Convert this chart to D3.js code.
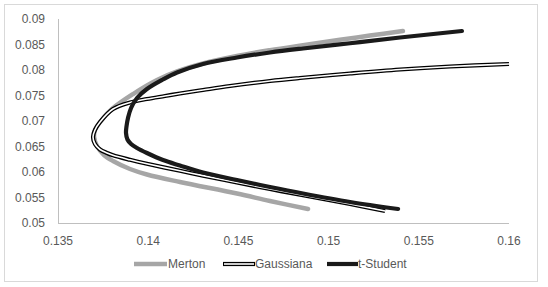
<!DOCTYPE html>
<html><head><meta charset="utf-8">
<script src="https://cdn.jsdelivr.net/npm/d3@7"></script>
<style>html,body{margin:0;padding:0;background:#fff;}svg{display:block;}</style>
</head><body>
<svg id="c" width="548" height="287"></svg>
<script>
const seriesNames = ["Merton", "Gaussiana", "t-Student"];
const mertonX = [0.15412, 0.15229, 0.15063, 0.14858, 0.14675, 0.14492, 0.14304, 0.14160, 0.14049, 0.13916, 0.13799, 0.13733, 0.13705, 0.13700, 0.13716, 0.13755, 0.13805, 0.13899, 0.13993, 0.14176, 0.14492, 0.14675, 0.14886];
const mertonY = [0.08765, 0.08675, 0.08592, 0.08486, 0.08388, 0.08275, 0.08127, 0.07971, 0.07804, 0.07529, 0.07235, 0.06980, 0.06824, 0.06686, 0.06510, 0.06333, 0.06216, 0.06059, 0.05951, 0.05804, 0.05578, 0.05431, 0.05275];
const gaussX = [0.16, 0.15673, 0.15396, 0.15119, 0.14841, 0.14675, 0.14453, 0.14304, 0.14176, 0.14093, 0.13993, 0.13899, 0.13805, 0.13733, 0.13705, 0.13694, 0.13705, 0.13733, 0.13772, 0.13805, 0.13899, 0.13993, 0.14176, 0.14304, 0.14492, 0.14675, 0.14858, 0.15119, 0.15313];
const gaussY = [0.08118, 0.08069, 0.08010, 0.07931, 0.07843, 0.07784, 0.07686, 0.07608, 0.07539, 0.07490, 0.07431, 0.07363, 0.07235, 0.06980, 0.06824, 0.06686, 0.06549, 0.06441, 0.06373, 0.06327, 0.06239, 0.06161, 0.06024, 0.05929, 0.05794, 0.05667, 0.05543, 0.05373, 0.05235];
const tX = [0.15739, 0.15396, 0.15119, 0.14858, 0.14675, 0.14492, 0.14304, 0.14160, 0.14082, 0.13993, 0.13938, 0.13905, 0.13888, 0.13880, 0.13877, 0.13885, 0.13905, 0.13938, 0.13993, 0.14082, 0.14176, 0.14304, 0.14492, 0.14675, 0.14858, 0.15119, 0.15385];
const tY = [0.08765, 0.08637, 0.08524, 0.08422, 0.08343, 0.08245, 0.08118, 0.07951, 0.07814, 0.07627, 0.07451, 0.07255, 0.07059, 0.06902, 0.06765, 0.06637, 0.06549, 0.06471, 0.06373, 0.06235, 0.06127, 0.05990, 0.05843, 0.05706, 0.05578, 0.05412, 0.05275];
const xTicks = [0.135, 0.14, 0.145, 0.15, 0.155, 0.16];
const yTicks = [0.05, 0.055, 0.06, 0.065, 0.07, 0.075, 0.08, 0.085, 0.09];
const xTickLabels = ["0.135", "0.14", "0.145", "0.15", "0.155", "0.16"];
const yTickLabels = ["0.05", "0.055", "0.06", "0.065", "0.07", "0.075", "0.08", "0.085", "0.09"];

const svg = d3.select("#c");
const font = "'Liberation Sans', Arial, sans-serif";
const txt = "#595959";

svg.append("rect").attr("x", 4.5).attr("y", 4.5).attr("width", 533).attr("height", 277)
  .attr("fill", "#fff").attr("stroke", "#d9d9d9").attr("stroke-width", 1);

const x = d3.scaleLinear().domain([0.135, 0.16]).range([58, 509]);
const y = d3.scaleLinear().domain([0.05, 0.09]).range([223, 19]);

svg.append("line").attr("x1", x(0.135) + 0.5).attr("x2", x(0.135) + 0.5).attr("y1", y(0.09)).attr("y2", y(0.05))
  .attr("stroke", "#bfbfbf");
svg.append("line").attr("x1", x(0.135)).attr("x2", x(0.16)).attr("y1", y(0.05) + 0.5).attr("y2", y(0.05) + 0.5)
  .attr("stroke", "#bfbfbf");

svg.append("g").selectAll("text").data(yTicks).join("text")
  .attr("x", 45).attr("y", d => y(d)).attr("dy", "0.35em").attr("text-anchor", "end")
  .attr("font-family", font).attr("font-size", 12).attr("fill", txt)
  .text((d, i) => yTickLabels[i]);
svg.append("g").selectAll("text").data(xTicks).join("text")
  .attr("x", d => x(d)).attr("y", 241).attr("dy", "0.35em").attr("text-anchor", "middle")
  .attr("font-family", font).attr("font-size", 12).attr("fill", txt)
  .text((d, i) => xTickLabels[i]);

const line = d3.line().x(d => x(d[0])).y(d => y(d[1])).curve(d3.curveCatmullRom.alpha(0.5));
const zip = (a, b) => a.map((v, i) => [v, b[i]]);

const g = svg.append("g").attr("fill", "none").attr("stroke-linecap", "round").attr("stroke-linejoin", "round");
g.append("path").attr("d", line(zip(mertonX, mertonY))).attr("stroke", "#a6a6a6").attr("stroke-width", 4.5);
g.append("path").attr("d", line(zip(gaussX, gaussY))).attr("stroke", "#000").attr("stroke-width", 4.2).attr("stroke-linecap", "butt");
g.append("path").attr("d", line(zip(gaussX, gaussY))).attr("stroke", "#fff").attr("stroke-width", 1.6).attr("stroke-linecap", "butt");
g.append("path").attr("d", line(zip(tX, tY))).attr("stroke", "#1a1a1a").attr("stroke-width", 4.2);

const ly = 264;
const leg = [
  {x1: 134, x2: 167, tx: 168},
  {x1: 223, x2: 255, tx: 255},
  {x1: 327, x2: 358, tx: 358}
];
const lg = svg.append("g");
lg.append("line").attr("x1", leg[0].x1).attr("x2", leg[0].x2).attr("y1", ly).attr("y2", ly).attr("stroke", "#a6a6a6").attr("stroke-width", 4.5);
lg.append("line").attr("x1", leg[1].x1).attr("x2", leg[1].x2).attr("y1", ly).attr("y2", ly).attr("stroke", "#000").attr("stroke-width", 4.2);
lg.append("line").attr("x1", leg[1].x1 + 1).attr("x2", leg[1].x2 - 1).attr("y1", ly).attr("y2", ly).attr("stroke", "#fff").attr("stroke-width", 1.6);
lg.append("line").attr("x1", leg[2].x1).attr("x2", leg[2].x2).attr("y1", ly).attr("y2", ly).attr("stroke", "#1a1a1a").attr("stroke-width", 4.2);
lg.selectAll("text").data(seriesNames).join("text")
  .attr("x", (d, i) => leg[i].tx).attr("y", ly).attr("dy", "0.35em")
  .attr("font-family", font).attr("font-size", 12).attr("fill", txt).text(d => d);
</script>
</body></html>
